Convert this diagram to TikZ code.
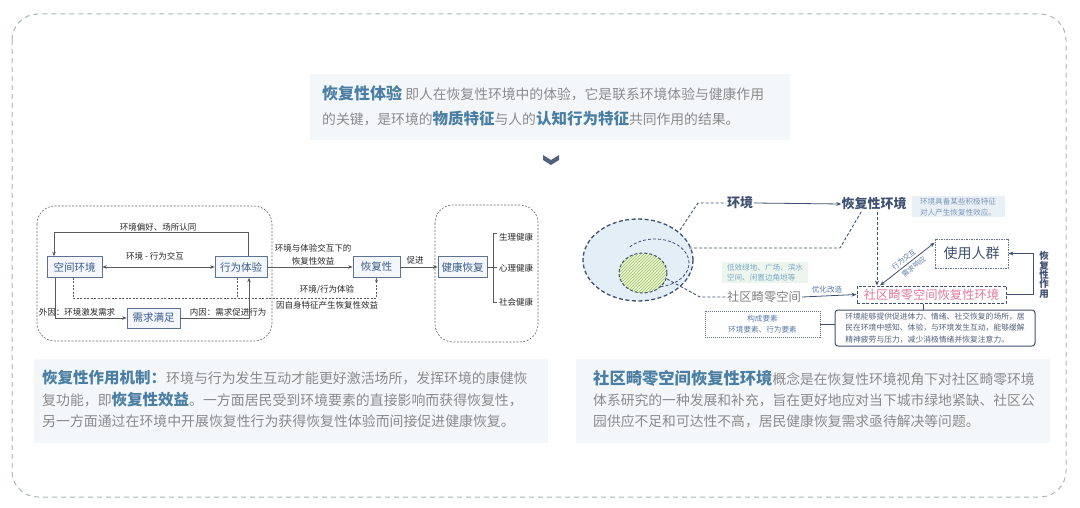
\documentclass[tikz,border=0pt]{standalone}
\usepackage{fontspec}
\setmainfont{Noto Sans CJK SC}
\usetikzlibrary{arrows.meta,patterns,calc}
\definecolor{titleb}{HTML}{4A7FA3}
\definecolor{bodyg}{HTML}{8A8A8A}
\definecolor{bgbox}{HTML}{F4F7FA}
\definecolor{nodeb}{HTML}{5E7391}
\definecolor{nodef}{HTML}{F3F6FA}
\definecolor{nodet}{HTML}{3B5B8C}
\definecolor{linec}{HTML}{5A5A5A}
\definecolor{darkb}{HTML}{3F5070}
\definecolor{pinkt}{HTML}{E2799A}
\definecolor{framec}{HTML}{A9B7B7}
\definecolor{ellf}{HTML}{E4EEF6}
\definecolor{greenf}{HTML}{EEF6D8}
\definecolor{greenh}{HTML}{9CC060}
\definecolor{smallb}{HTML}{5A7AA8}
\definecolor{lowt}{HTML}{7AAAC8}
\definecolor{lowf}{HTML}{EDF5EF}
\definecolor{notef}{HTML}{E9F1F7}
\begin{document}
\begin{tikzpicture}[x=1pt,y=-1pt,
  tbox/.style={draw=nodeb, fill=nodef, text=nodet, inner sep=0, line width=0.6,
     font=\fontsize{10.5}{12}\selectfont},
  lab/.style={font=\fontsize{8.5}{10}\selectfont, text=black!85, inner sep=0},
  arr/.style={-{Stealth[length=4.5pt,width=3.5pt]}, draw=linec, line width=0.6},
  darr/.style={{Stealth[length=4.5pt,width=3.5pt]}-{Stealth[length=4.5pt,width=3.5pt]}, draw=linec, line width=0.6},
  dline/.style={draw=linec, line width=0.6, dash pattern=on 2pt off 1.5pt},
  rarr/.style={-{Stealth[length=5pt,width=4pt]}, draw=darkb, line width=0.8},
  rdash/.style={draw=darkb, line width=0.9, dash pattern=on 3pt off 2pt},
  small/.style={font=\fontsize{7.6}{10.5}\selectfont, inner sep=0},
  para/.style={anchor=west, inner sep=0, text=bodyg},
  slab/.style={sloped, inner sep=0.5, text=smallb, font=\fontsize{7}{7}\selectfont},
]
\useasboundingbox (0,0) rectangle (1080,508);
% outer frame
\draw[framec, line width=1, dash pattern=on 5pt off 4pt, rounded corners=26] (12,14) rectangle (1066,497);

% top text
\fill[bgbox] (310,74) rectangle (790,140);
\node[para] (t1) at (322,93) {{\fontsize{16}{16}\selectfont\bfseries\color{titleb}恢复性体验}\fontsize{13.8}{14}\selectfont\ 即人在恢复性环境中的体验，它是联系环境体验与健康作用};
\node[para] (t2) at (322,119) {\fontsize{13.8}{14}\selectfont 的关键，是环境的{\fontsize{15.5}{15}\selectfont\bfseries\color{titleb}物质特征}与人的{\fontsize{15.5}{15}\selectfont\bfseries\color{titleb}认知行为特征}共同作用的结果。};
\coordinate (cv) at (551,160);
\draw[fill=darkb!90, draw=none] ($(cv)+(-8,-5)$) -- ($(cv)+(0,0)$) -- ($(cv)+(8,-5)$) -- ($(cv)+(8,0)$) -- ($(cv)+(0,5)$) -- ($(cv)+(-8,0)$) -- cycle;

% ===== left diagram =====
\draw[dline, draw=black!60, rounded corners=18] (37,206) rectangle (272,341);
\draw[dline, draw=black!60, rounded corners=18] (435,205) rectangle (538,342);

\node[tbox, minimum width=55, minimum height=21] (kj) at (74.5,267) {空间环境};
\node[tbox, minimum width=52, minimum height=21] (xw) at (241,267) {行为体验};
\node[tbox, minimum width=53, minimum height=20] (xq) at (153.5,318) {需求满足};
\node[tbox, minimum width=47, minimum height=21] (hf) at (376.5,267) {恢复性};
\node[tbox, minimum width=49, minimum height=21] (jk) at (462.5,267) {健康恢复};

\coordinate (tl) at (54,232);
\draw[arr] ([xshift=7]xw.north) |- (tl) -- (tl |- kj.north);
\node[lab] (l1) at (158,227) {环境偏好、场所认同};
\draw[darr] (kj.east) -- (xw.west);
\node[lab] (l2) at (155,256) {环境 - 行为交互};
\coordinate (dl) at (73,298);
\draw[dline] ([xshift=-1.5]kj.south) -- (dl);
\draw[dline, -{Stealth[length=4pt,width=3pt]}] (dl) -| (hf.south);
\draw[dline] ([xshift=-4]xw.south) -- ([xshift=-4]xw.south |- dl);
\draw[arr] ([xshift=-19.5]kj.south) |- (xq.west);
\draw[arr] (xq.east) -| ([xshift=8]xw.south);
\node[lab] (l3) at (77,312) {外因：环境激发需求};
\node[lab] (l4) at (228,312) {内因：需求促进行为};
\draw[arr] (xw.east) -- (hf.west);
\node[lab, align=center, font=\fontsize{8.5}{13}\selectfont] (l5) at (313,254.5) {环境与体验交互下的\\恢复性效益};
\node[lab] (l6) at (327,290) {环境/行为体验};
\node[lab] (l7) at (327,305) {因自身特征产生恢复性效益};
\draw[arr] (hf.east) -- (jk.west);
\node[lab] (l8) at (415,260) {促进};
\draw[linec, line width=0.6] (jk.east) -- (497,267) (497,233) -- (493,233) -- (493,302) -- (497,302);
\node[lab, anchor=west] (h1) at (499,237) {生理健康};
\node[lab, anchor=west] (h2) at (499,268) {心理健康};
\node[lab, anchor=west] (h3) at (499,302) {社会健康};

% left bottom paragraph
\fill[bgbox] (34,359) rectangle (548,443);
\node[para] (p1) at (42,378) {{\fontsize{15.5}{15}\selectfont\bfseries\color{titleb}恢复性作用机制：}\fontsize{13.9}{14}\selectfont 环境与行为发生互动才能更好激活场所，发挥环境的康健恢};
\node[para] (p2) at (42,400) {\fontsize{13.9}{14}\selectfont 复功能，即{\fontsize{15.5}{15}\selectfont\bfseries\color{titleb}恢复性效益}。一方面居民受到环境要素的直接影响而获得恢复性，};
\node[para] (p3) at (42,421) {\fontsize{13.9}{14}\selectfont 另一方面通过在环境中开展恢复性行为获得恢复性体验而间接促进健康恢复。};

% ===== right diagram =====
\draw[fill=ellf, draw=darkb, line width=1.3, dash pattern=on 4pt off 2.5pt] (638,260) ellipse [x radius=55, y radius=41];
\draw[darkb, line width=0.8, dash pattern=on 3pt off 2pt] ($(655,263)+(222:34 and 24)$) arc[start angle=222, end angle=455, x radius=34, y radius=24];
\fill[greenf] (643,273) ellipse [x radius=24, y radius=20];
\fill[pattern=north east lines, pattern color=greenh] (643,273) ellipse [x radius=24, y radius=20];
\draw[darkb, line width=1, dash pattern=on 3pt off 2pt] (643,273) ellipse [x radius=24, y radius=20];

\node[inner sep=1, text=darkb, font=\fontsize{13}{13}\selectfont\bfseries] (env) at (740,203) {环境};
\node[inner sep=0, text=darkb, font=\fontsize{13}{13}\selectfont\bfseries] (renv) at (874,204) {恢复性环境};
\node[fill=notef, small, text=smallb!80, align=left, minimum width=93, minimum height=21] (note) at (958,207) {环境具备某些积极特征\\对人产生恢复性效应。};
\node[draw=darkb!80, dash pattern=on 1.5pt off 1pt, line width=0.8, fill=white, minimum width=73, minimum height=29, inner sep=0, text=darkb, font=\fontsize{14}{14}\selectfont] (usr) at (971.5,253.5) {使用人群};
\node[draw=darkb, line width=1, dash pattern=on 3pt off 1.5pt, fill=white, minimum width=149, minimum height=17, inner sep=0, text=pinkt, font=\fontsize{12.3}{12}\selectfont] (main) at (931.5,294.5) {社区畸零空间恢复性环境};
\node[inner sep=1, text=black!50, font=\fontsize{12.3}{12}\selectfont] (space) at (764,297) {社区畸零空间};
\node[fill=lowf, small, text=lowt, align=left, minimum width=86, minimum height=21] (low) at (765,272.5) {低效绿地、广场、滨水\\空间、闲置边角地等};
\node[draw=darkb!80, dash pattern=on 1pt off 1pt, line width=0.7, minimum width=115, minimum height=26, small, text=smallb, align=center, font=\fontsize{7.6}{11}\selectfont] (comp) at (762.5,324) {构成要素\\环境要素、行为要素};
\node[draw=darkb, line width=1, rounded corners=3, minimum width=200, minimum height=36, small, text=darkb!90, align=left, font=\fontsize{7.8}{11.3}\selectfont] (desc) at (935,328) {环境能够提供促进体力、情绪、社交恢复的场所，居\\民在环境中感知、体验，与环境发生互动，能够缓解\\精神疲劳与压力，减少消极情绪并恢复注意力。};

% connectors
\coordinate (e1) at (680,230);
\coordinate (e2) at (698,203);
\draw[rdash] (e1) -- (e2) -- (env.west);
\draw[rarr] (env.east) -- (renv.west);
\coordinate (i1) at (689,248);
\coordinate (i2) at (840,248);
\draw[rdash] (i1) -- (i2) -- ([xshift=-12]renv.south);
\draw[rdash, -{Stealth[length=5pt,width=4pt]}] ([xshift=3,yshift=-2]renv.south) -- ([xshift=3]renv.south |- main.north);
\coordinate (g1) at (667,279);
\coordinate (g2) at (700,297);
\draw[rdash] (g1) -- (g2) -- (space.west);
\draw[rarr] (space.east) -- (main.west);
\node[inner sep=0, text=smallb, font=\fontsize{7.6}{8}\selectfont] (oz) at (827,290) {优化改造};
\draw[darkb, line width=0.8, {Stealth[length=5pt,width=4pt]}-{Stealth[length=5pt,width=4pt]}] ([xshift=-51.5]main.north) -- node[slab, pos=0.5, above=1.8] (jh) {行为交互} node[slab, pos=0.55, below=1.8] (xy) {需求响应} ([yshift=-4]usr.north west);
\coordinate (rc) at (1033,253.5);
\draw[rarr] (main.east) -| (rc) -- (usr.east);
\node[inner sep=0, align=center, text=darkb, font=\fontsize{9.5}{9.3}\selectfont\bfseries] (hz) at (1044,275) {恢\\复\\性\\作\\用};
\draw[darkb, line width=0.8] ([xshift=-8.5]main.south) -- ([xshift=-8.5]main.south |- desc.north);
\draw[darkb, line width=0.8] (comp.east) -- (comp.east -| desc.west);

% right bottom paragraph
\fill[bgbox] (576,359) rectangle (1050,443);
\node[para] (q1) at (593,378) {{\fontsize{16.3}{16}\selectfont\bfseries\color{titleb}社区畸零空间恢复性环境}\fontsize{13.8}{14}\selectfont 概念是在恢复性环境视角下对社区畸零环境};
\node[para] (q2) at (593,400) {\fontsize{13.8}{14}\selectfont 体系研究的一种发展和补充，旨在更好地应对当下城市绿地紧缺、社区公};
\node[para] (q3) at (593,421) {\fontsize{13.8}{14}\selectfont 园供应不足和可达性不高，居民健康恢复需求亟待解决等问题。};
\end{tikzpicture}
\end{document}
